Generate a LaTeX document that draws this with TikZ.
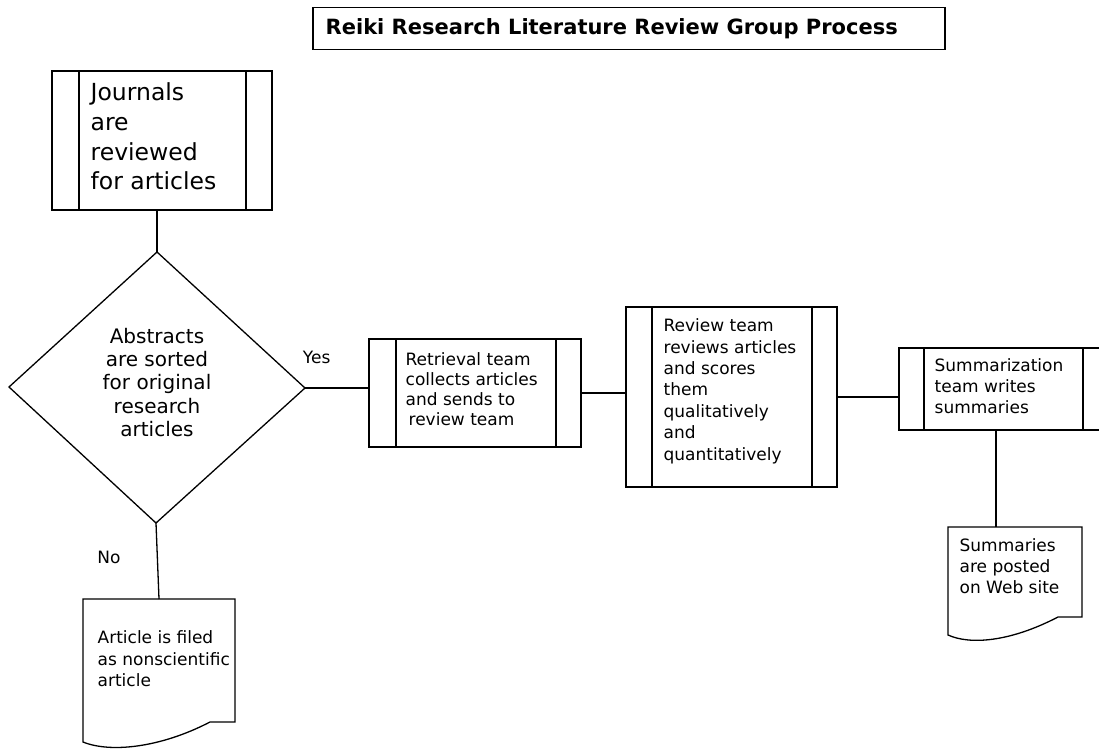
\documentclass[tikz,border=0pt]{standalone}
\usepackage{fontspec}
\setmainfont{DejaVu Sans}
\begin{document}
\begin{tikzpicture}[x=1pt,y=-1pt,
  line width=1.3pt,
  frame/.style={draw, line width=1.3pt, anchor=north west, inner sep=0pt, outer sep=0pt},
  ghost/.style={anchor=north west, inner sep=0pt, outer sep=0pt},
  txt/.style={anchor=base west, inner sep=0pt, align=left},
  lbl/.style={inner sep=0pt, font=\fontsize{17}{20}\selectfont}
]
\clip (0,0) rectangle (1099,751);
\fill[white] (0,0) rectangle (1099,751);

% title
\node[frame, minimum width=632, minimum height=42] (title) at (313,7.5) {};
\node[anchor=base west, inner sep=0pt, font=\fontsize{21}{25}\selectfont\bfseries] (titletext) at (325,35) {Reiki Research Literature Review Group Process};

% journals (base anchor = last line)
\node[frame, minimum width=220, minimum height=139] (journ) at (52,71) {};
\draw ([xshift=27pt]journ.north west) -- ([xshift=27pt]journ.south west);
\draw ([xshift=-26pt]journ.north east) -- ([xshift=-26pt]journ.south east);
\node[txt, font=\fontsize{23.5}{29.7}\selectfont] (journt) at (90,189.8) {Journals\\are\\reviewed\\for articles};

% decision
\coordinate (dT) at (157,252);
\coordinate (dL) at (9,387);
\coordinate (dR) at (305,388);
\coordinate (dB) at (156,523);
\draw (dT) -- (dR) -- (dB) -- (dL) -- cycle;
\node[anchor=base, inner sep=0pt, align=center, font=\fontsize{20}{23.3}\selectfont] (dtext) at (157,436.5) {Abstracts\\are sorted\\for original\\research\\articles};

\node[lbl] (yes) at (316.7,357) {Yes};
\node[lbl] (no) at (109,557) {No};

% retrieval
\node[frame, minimum width=212, minimum height=108] (retr) at (369,339) {};
\draw ([xshift=27pt]retr.north west) -- ([xshift=27pt]retr.south west);
\draw ([xshift=-25pt]retr.north east) -- ([xshift=-25pt]retr.south east);
\node[txt, font=\fontsize{17}{20.3}\selectfont] (retrt) at (405,425.9) {Retrieval team\\collects articles\\and sends to\\\hspace*{3pt}review team};

% review
\node[frame, minimum width=211, minimum height=180] (rev) at (626,307) {};
\draw ([xshift=26pt]rev.north west) -- ([xshift=26pt]rev.south west);
\draw ([xshift=-25pt]rev.north east) -- ([xshift=-25pt]rev.south east);
\node[txt, font=\fontsize{17}{21.4}\selectfont] (revt) at (663,460.1) {Review team\\reviews articles\\and scores\\them\\qualitatively\\and\\quantitatively};

% summarization
\node[frame, minimum width=215, minimum height=82] (summ) at (899,348) {};
\draw ([xshift=25pt]summ.north west) -- ([xshift=25pt]summ.south west);
\draw ([xshift=184pt]summ.north west) -- ([xshift=184pt]summ.south west);
\node[txt, font=\fontsize{17}{20.8}\selectfont] (summt) at (934,413.3) {Summarization\\team writes\\summaries};

% document: summaries posted
\node[ghost, minimum width=134, minimum height=90] (doc2) at (948,527) {};
\draw (doc2.south east) -- (doc2.north east) -- (doc2.north west) -- ++(0,108) .. controls (970,645) and (1010,642) .. (1058,617) -- cycle;
\node[txt, font=\fontsize{17}{20.8}\selectfont] (doc2t) at (959,593.3) {Summaries\\are posted\\on Web site};

% document: filed as nonscientific
\node[ghost, minimum width=152, minimum height=123] (doc1) at (83,599) {};
\draw (doc1.south east) -- (doc1.north east) -- (doc1.north west) -- ++(0,143) .. controls (110,753) and (160,748) .. (210,722) -- cycle;
\node[txt, font=\fontsize{17}{21.7}\selectfont] (doc1t) at (97,686.7) {Article is filed\\as nonscientific\\article};

% connectors
\coordinate (pin2) at (996,527);
\draw (journ.south -| dT) -- (dT);
\draw (dR) -- (dR -| retr.west);
\draw (retr.east) -- (retr.east -| rev.west);
\draw (rev.east) -- (rev.east -| summ.west);
\draw (pin2 |- summ.south) -- (pin2);
\draw (dB) -- (doc1.north);
\end{tikzpicture}
\end{document}
